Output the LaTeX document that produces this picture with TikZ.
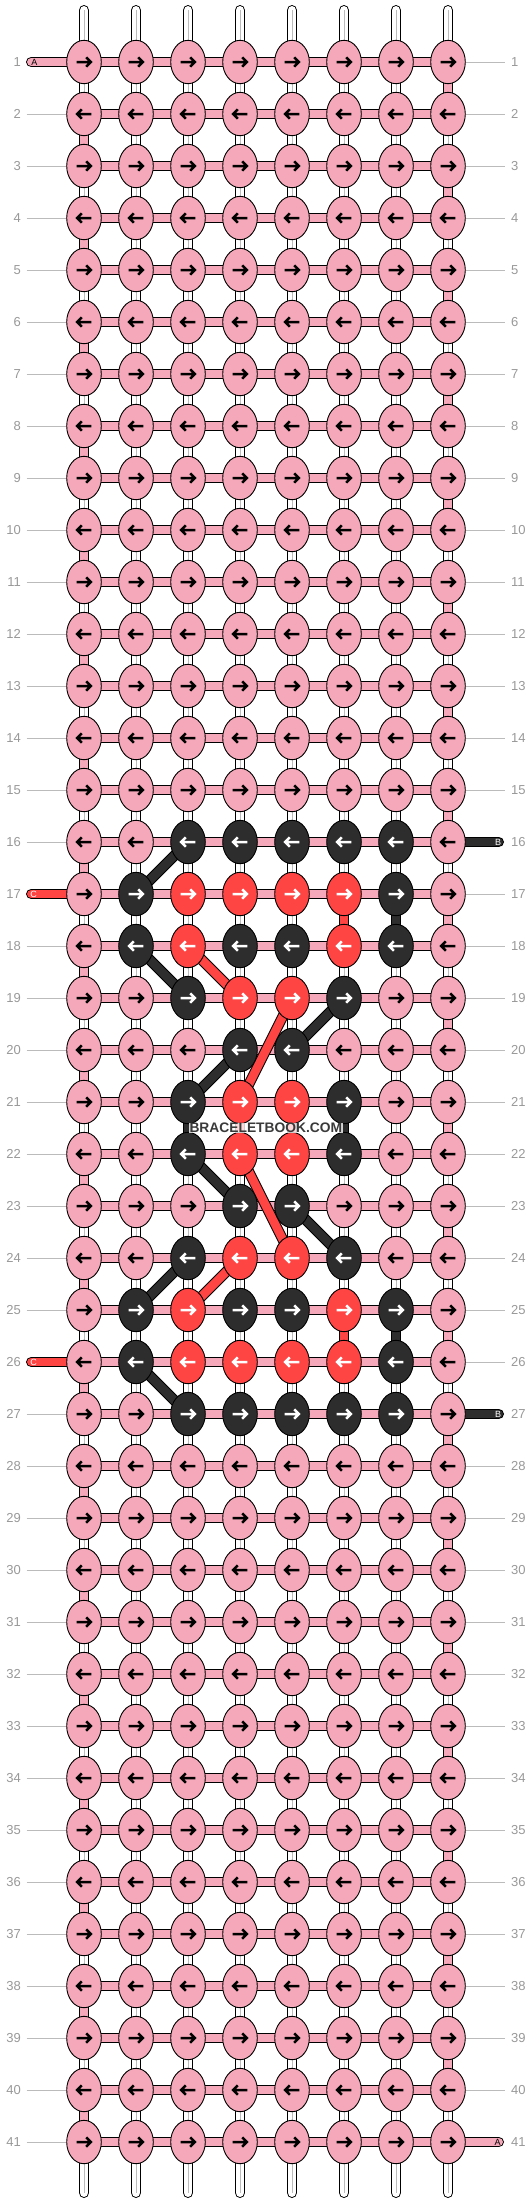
\documentclass[tikz,border=0pt]{standalone}
\usepackage{fontspec}
\setmainfont{Liberation Sans}
\usetikzlibrary{shapes.geometric}
\definecolor{cP}{HTML}{F5A8B9}
\definecolor{cK}{HTML}{2D2D2D}
\definecolor{cR}{HTML}{FF4444}
\colorlet{aP}{black}
\colorlet{aK}{white}
\colorlet{aR}{white}
\definecolor{lblgray}{HTML}{999999}
\definecolor{linegray}{HTML}{BBBBBB}
\definecolor{midgray}{HTML}{BBBBBB}
\definecolor{wmtext}{HTML}{3A3A3A}
\expandafter\def\csname krow16\endcsname{P,P,K,K,K,K,K,P}
\expandafter\def\csname krow17\endcsname{P,K,R,R,R,R,K,P}
\expandafter\def\csname krow18\endcsname{P,K,R,K,K,R,K,P}
\expandafter\def\csname krow19\endcsname{P,P,K,R,R,K,P,P}
\expandafter\def\csname krow20\endcsname{P,P,P,K,K,P,P,P}
\expandafter\def\csname krow21\endcsname{P,P,K,R,R,K,P,P}
\expandafter\def\csname krow22\endcsname{P,P,K,R,R,K,P,P}
\expandafter\def\csname krow23\endcsname{P,P,P,K,K,P,P,P}
\expandafter\def\csname krow24\endcsname{P,P,K,R,R,K,P,P}
\expandafter\def\csname krow25\endcsname{P,K,R,K,K,R,K,P}
\expandafter\def\csname krow26\endcsname{P,K,R,R,R,R,K,P}
\expandafter\def\csname krow27\endcsname{P,P,K,K,K,K,K,P}
\def\pinkrow{P,P,P,P,P,P,P,P}
\tikzset{
 knot/.style={ellipse, draw=black, line width=0.9pt, minimum width=34.6pt, minimum height=43.4pt, inner sep=0pt},
 bandout/.style={line width=10.7pt, draw=black},
 bandin/.style={line width=8.7pt},
 arrowpath/.style={line width=2.5pt, line join=miter},
 lbl/.style={text=lblgray, font=\fontsize{13}{13}\selectfont, inner sep=0pt},
 rowline/.style={draw=linegray, line width=1pt},
 stublbl/.style={font=\fontsize{9}{9}\selectfont, inner sep=0pt},
}
\newcommand\band[3]{\draw[bandout] (#2) -- (#3); \draw[bandin, draw=#1] (#2) -- (#3);}
\newcommand\stub[3]{\draw[bandout,line cap=round] (#2) -- (#3); \draw[bandin,draw=#1,line cap=round] (#2) -- (#3);}
\begin{document}
\begin{tikzpicture}[x=1pt,y=-1pt]
\useasboundingbox (0,0) rectangle (532,2204);
\fill[white] (0,0) rectangle (532,2204);
% knot centres
\foreach \r in {1,...,41}{
 \foreach \c in {1,...,8}{
  \coordinate (p-\r-\c) at ({84+52*(\c-1)},{62+52*(\r-1)});
 }
}
% vertical warp strands
\foreach \c in {1,...,8}{
 \coordinate (wt-\c) at ({84+52*(\c-1)},10.35);
 \coordinate (wb-\c) at ({84+52*(\c-1)},2192.65);
 \draw[bandout, line cap=round] (wt-\c) -- (wb-\c);
 \draw[bandin, draw=white, line cap=round] (wt-\c) -- (wb-\c);
 \draw[midgray, line width=0.8pt] (wt-\c) -- (wb-\c);
}
% horizontal bars
\foreach \r in {1,...,41}{ \band{cP}{p-\r-1}{p-\r-8} }
% row transitions
\foreach \r in {1,...,40}{
 \pgfmathtruncatemacro\tc{mod(\r,2)==1 ? 8 : 1}
 \pgfmathtruncatemacro\rn{\r+1}
 \band{cP}{p-\r-\tc}{p-\rn-\tc}
}
% coloured verticals
\foreach \a/\b/\c/\col in {17/18/6/cR, 17/18/7/cK, 25/26/6/cR, 25/26/7/cK, 21/22/3/cK, 21/22/4/cR, 21/22/5/cR, 21/22/6/cK}{
 \band{\col}{p-\a-\c}{p-\b-\c}
}
% diagonals
\foreach \a/\b/\d/\e/\col in {16/3/17/2/cK, 18/2/19/3/cK, 18/3/19/4/cR, 19/5/21/4/cR, 19/6/20/5/cK, 20/4/21/3/cK, 22/3/23/4/cK, 22/4/24/5/cR, 23/5/24/6/cK, 24/3/25/2/cK, 24/4/25/3/cR, 26/2/27/3/cK}{
 \band{\col}{p-\a-\b}{p-\d-\e}
}
% stubs
\coordinate (sA1) at (31.35,62);
\coordinate (sC17) at (31.35,894);
\coordinate (sC26) at (31.35,1362);
\coordinate (sB16) at (498.65,842);
\coordinate (sB27) at (498.65,1414);
\coordinate (sA41) at (498.65,2142);
\stub{cP}{sA1}{p-1-1}
\stub{cR}{sC17}{p-17-1}
\stub{cR}{sC26}{p-26-1}
\stub{cK}{sB16}{p-16-8}
\stub{cK}{sB27}{p-27-8}
\stub{cP}{sA41}{p-41-8}
\node[stublbl, text=black] (lA1) at (34.5,62) {A};
\node[stublbl, text=white] (lC17) at (33.5,894) {C};
\node[stublbl, text=white] (lC26) at (33.5,1362) {C};
\node[stublbl, text=white] (lB16) at (498,842) {B};
\node[stublbl, text=white] (lB27) at (498,1414) {B};
\node[stublbl, text=black] (lA41) at (497.7,2142) {A};
% knots
\foreach \r in {1,...,41}{
 \ifcsname krow\r\endcsname \edef\cols{\csname krow\r\endcsname}\else \let\cols\pinkrow\fi
 \pgfmathtruncatemacro\dir{mod(\r,2)==1 ? 1 : -1}
 \foreach[count=\c] \t in \cols {
  \node[knot, fill=c\t] (k-\r-\c) at (p-\r-\c) {};
  \begin{scope}[shift={(p-\r-\c)}, xscale=\dir]
   \draw[arrowpath, draw=a\t] (-7.3,0) -- (6.3,0) (2.2,-4.7) -- (6.8,0) -- (2.2,4.7);
  \end{scope}
 }
}
% row lines and labels
\foreach \r in {1,...,41}{
 \pgfmathtruncatemacro\yy{62+52*(\r-1)}
 \pgfmathtruncatemacro\skipl{(\r==1)||(\r==17)||(\r==26)}
 \pgfmathtruncatemacro\skipr{(\r==16)||(\r==27)||(\r==41)}
 \coordinate (gl-\r) at (26.5,\yy);
 \coordinate (gr-\r) at (505,\yy);
 \ifnum\skipl=0 \draw[rowline] (gl-\r) -- (k-\r-1.west); \fi
 \ifnum\skipr=0 \draw[rowline] (k-\r-8.east) -- (gr-\r); \fi
 \node[lbl, anchor=east] (ll-\r) at (21,\yy) {\r};
 \node[lbl, anchor=west] (rl-\r) at (511,\yy) {\r};
}
% watermark
\node[fill=white, fill opacity=0.8, text opacity=1, text=wmtext, inner sep=0.5pt, font=\bfseries\fontsize{13.8}{13.8}\selectfont] (wm) at (265.8,1128) {BRACELETBOOK.COM};
\end{tikzpicture}
\end{document}
